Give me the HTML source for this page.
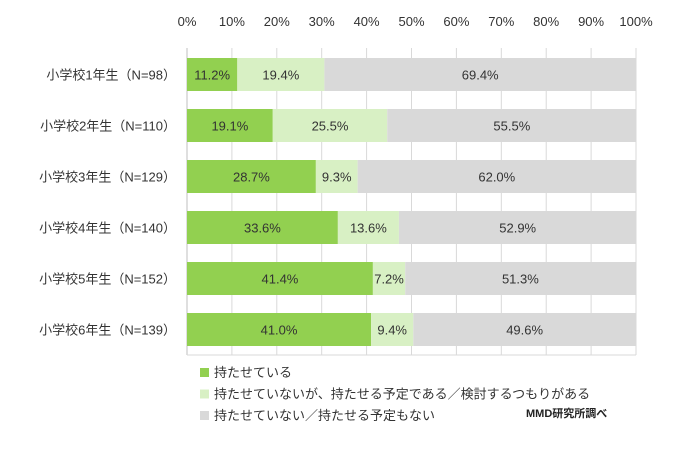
<!DOCTYPE html>
<html><head><meta charset="utf-8"><style>
body{margin:0;background:#fff;}
svg text{font-family:"Liberation Sans","Noto Sans CJK JP",sans-serif;}
</style></head><body>
<svg id="c" width="674" height="448"></svg>
<script>
const categories=["小学校1年生（N=98）","小学校2年生（N=110）","小学校3年生（N=129）","小学校4年生（N=140）","小学校5年生（N=152）","小学校6年生（N=139）"];
const seriesHave=[11.2,19.1,28.7,33.6,41.4,41.0];
const seriesPlan=[19.4,25.5,9.3,13.6,7.2,9.4];
const seriesNone=[69.4,55.5,62.0,52.9,51.3,49.6];
const ticks=[0,10,20,30,40,50,60,70,80,90,100];
const legendLabels=["持たせている","持たせていないが、持たせる予定である／検討するつもりがある","持たせていない／持たせる予定もない"];
const colors=["#92d050","#d8f0c4","#d9d9d9"];
const svgEl=document.getElementById('c');const NS="http://www.w3.org/2000/svg";
const x0=187,x1=636,plotTop=48,plotBottom=355,rowH=51,barH=33,firstY=58;
const xs=v=>x0+(x1-x0)*v/100;
const ys=i=>firstY+i*rowH;
function mk(t,a){const e=document.createElementNS(NS,t);for(const k in a)e.setAttribute(k,a[k]);svgEl.appendChild(e);return e;}
ticks.forEach(t=>{
 const l=mk('line',{x1:xs(t),x2:xs(t),y1:plotTop,y2:plotBottom,stroke:t===0?'#bfbfbf':'#d9d9d9','stroke-width':1});
 
 
 const tx=mk('text',{x:xs(t),y:26,'text-anchor':'middle','font-size':13,fill:'#333'});tx.textContent=t+'%';
 
 
});
const bl=mk('line',{x1:x0,x2:x1,y1:plotBottom,y2:plotBottom,stroke:'#d9d9d9'});


const series=[seriesHave,seriesPlan,seriesNone];
categories.forEach((c,i)=>{
 const y=ys(i);
 const lab=mk('text',{x:176,y:y+barH/2+5,'text-anchor':'end','font-size':13,fill:'#333'});lab.textContent=c;
 
 
 let acc=0;
 series.forEach((s,k)=>{
  const v=s[i];
  const r=mk('rect',{x:xs(acc),y:y,width:xs(acc+v)-xs(acc),height:barH,fill:colors[k]});
  
  
  const t=mk('text',{x:(xs(acc)+xs(acc+v))/2,y:y+barH/2+5,'text-anchor':'middle','font-size':13,fill:'#333'});t.textContent=v.toFixed(1)+'%';
  
  
  acc+=v;
 });
});
legendLabels.forEach((l,k)=>{
 const y=368+k*21.5;
 const r=mk('rect',{x:200,y:y,width:9,height:9,fill:colors[k]});
 
 
 const t=mk('text',{x:214,y:y+9,'font-size':13,fill:'#333'});t.textContent=l;
 
 
});
const src=mk('text',{x:526,y:417,'font-size':11,fill:'#222','font-weight':'bold'});src.textContent='MMD研究所調べ';


</script>
</body></html>
